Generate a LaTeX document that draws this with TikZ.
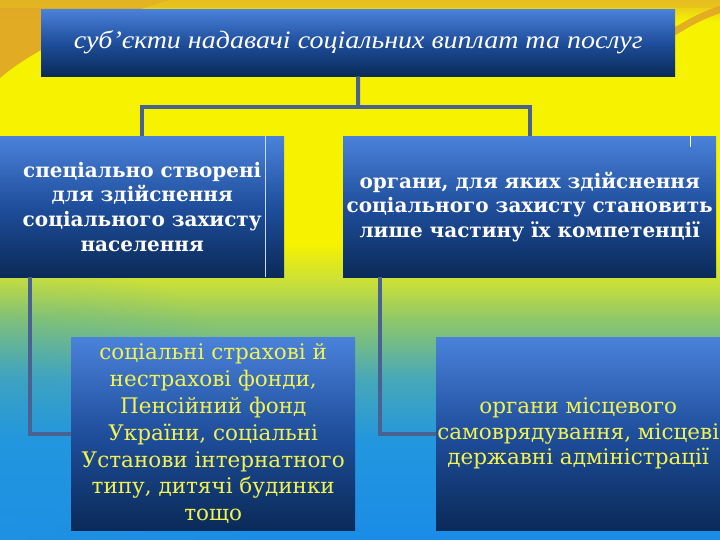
\documentclass[tikz,border=0pt]{standalone}
\usepackage{fontspec}
\usetikzlibrary{fadings}
\newfontfamily\boxfont{DejaVu Serif}
\newfontfamily\topfont[FakeStretch=1.12]{Liberation Serif}
\definecolor{bgblue}{HTML}{1A8CE8}
\definecolor{bgblueb}{HTML}{2296DE}
\definecolor{bgteal}{HTML}{48A8B8}
\definecolor{bggreen}{HTML}{90C868}
\definecolor{bglime}{HTML}{CCE038}
\definecolor{bgyellow}{HTML}{F6F200}
\definecolor{bgorange}{HTML}{E6BE20}
\definecolor{swoosh}{HTML}{E0A428}
\definecolor{boxtop}{HTML}{4A82DA}
\definecolor{boxmid}{HTML}{1F4E9C}
\definecolor{boxbot}{HTML}{0A2A58}
\definecolor{conncol}{HTML}{4A6292}
\definecolor{txtyellow}{HTML}{F2F250}
\pgfdeclareverticalshading{bgshade}{100bp}{%
  color(0bp)=(bgblue); color(25bp)=(bgblue); color(34bp)=(bgblueb);
  color(40bp)=(bgteal); color(45.5bp)=(bggreen); color(49bp)=(bglime);
  color(52.5bp)=(bgyellow); color(73bp)=(bgyellow); color(75bp)=(bgorange);
  color(100bp)=(bgorange)}
\pgfdeclareverticalshading{boxshade}{100bp}{%
  color(0bp)=(boxbot); color(25bp)=(boxbot); color(50bp)=(boxmid);
  color(75bp)=(boxtop); color(100bp)=(boxtop)}
\tikzfading[name=myrad, inner color=transparent!0, outer color=transparent!100]
\tikzset{
  bluebox/.style={shading=boxshade, anchor=north west, inner sep=0pt,
    align=center, text=white},
  conn/.style={draw=conncol, line width=4pt},
  boldtxt/.style={font=\boxfont\bfseries\fontsize{20}{24.6}\selectfont},
  yeltxt/.style={text=txtyellow, font=\boxfont\fontsize{21.5}{26.8}\selectfont},
  yeltxtb/.style={text=txtyellow, font=\boxfont\fontsize{21.5}{25.5}\selectfont},
}
\begin{document}
\begin{tikzpicture}[x=1pt,y=-1pt]
\useasboundingbox (0,0) rectangle (720,540);
% background
\shade[shading=bgshade] (0,0) rectangle (720,540);
\fill[bgblueb, path fading=myrad, opacity=0.55] (-300,240) rectangle (300,840);
\fill[swoosh, opacity=0.9] (0,0) -- (170,0) .. controls (110,18) and (45,40) .. (0,78) -- cycle;
\fill[bgorange, opacity=0.6] (0,0) rectangle (720,8);
\draw[swoosh, line width=7pt, opacity=0.85] (674,32) .. controls (690,22) and (705,14) .. (722,9);
% boxes
\node[bluebox, minimum width=634pt, minimum height=67pt,
  font=\topfont\itshape\fontsize{25}{30}\selectfont] (top) at (41,9)
  {суб’єкти надавачі соціальних виплат та послуг};
\node[bluebox, boldtxt, minimum width=284pt, minimum height=141pt] (left) at (0,136)
  {спеціально створені\\для здійснення\\соціального захисту\\населення};
\node[bluebox, boldtxt, minimum width=373pt, minimum height=141pt] (right) at (343,136)
  {органи, для яких здійснення\\соціального захисту становить\\лише частину їх компетенції};
\node[bluebox, yeltxt, minimum width=284pt, minimum height=193pt] (bl) at (71,337)
  {соціальні страхові й\\нестрахові фонди,\\Пенсійний фонд\\України, соціальні\\Установи інтернатного\\типу, дитячі будинки\\тощо};
\node[bluebox, yeltxtb, minimum width=284pt, minimum height=193pt] (br) at (436,337)
  {органи місцевого\\самоврядування, місцеві\\державні адміністрації};
% connectors
\coordinate (hub) at (358,107);
\draw[conn] (top.south) -- (hub);
\draw[conn] (hub) -| (left.north);
\draw[conn] (hub) -| (right.north);
\draw[conn] ([xshift=30pt]left.south west) |- (bl.west);
\draw[conn] ([xshift=37pt]right.south west) |- (br.west);
% thin marks
\draw[white!70!boxtop, line width=0.8pt] ([xshift=-19pt]left.north east) -- ([xshift=-19pt]left.south east);
\draw[white, line width=0.8pt] ([xshift=-26pt]right.north east) -- ++(0,11);
\end{tikzpicture}
\end{document}
